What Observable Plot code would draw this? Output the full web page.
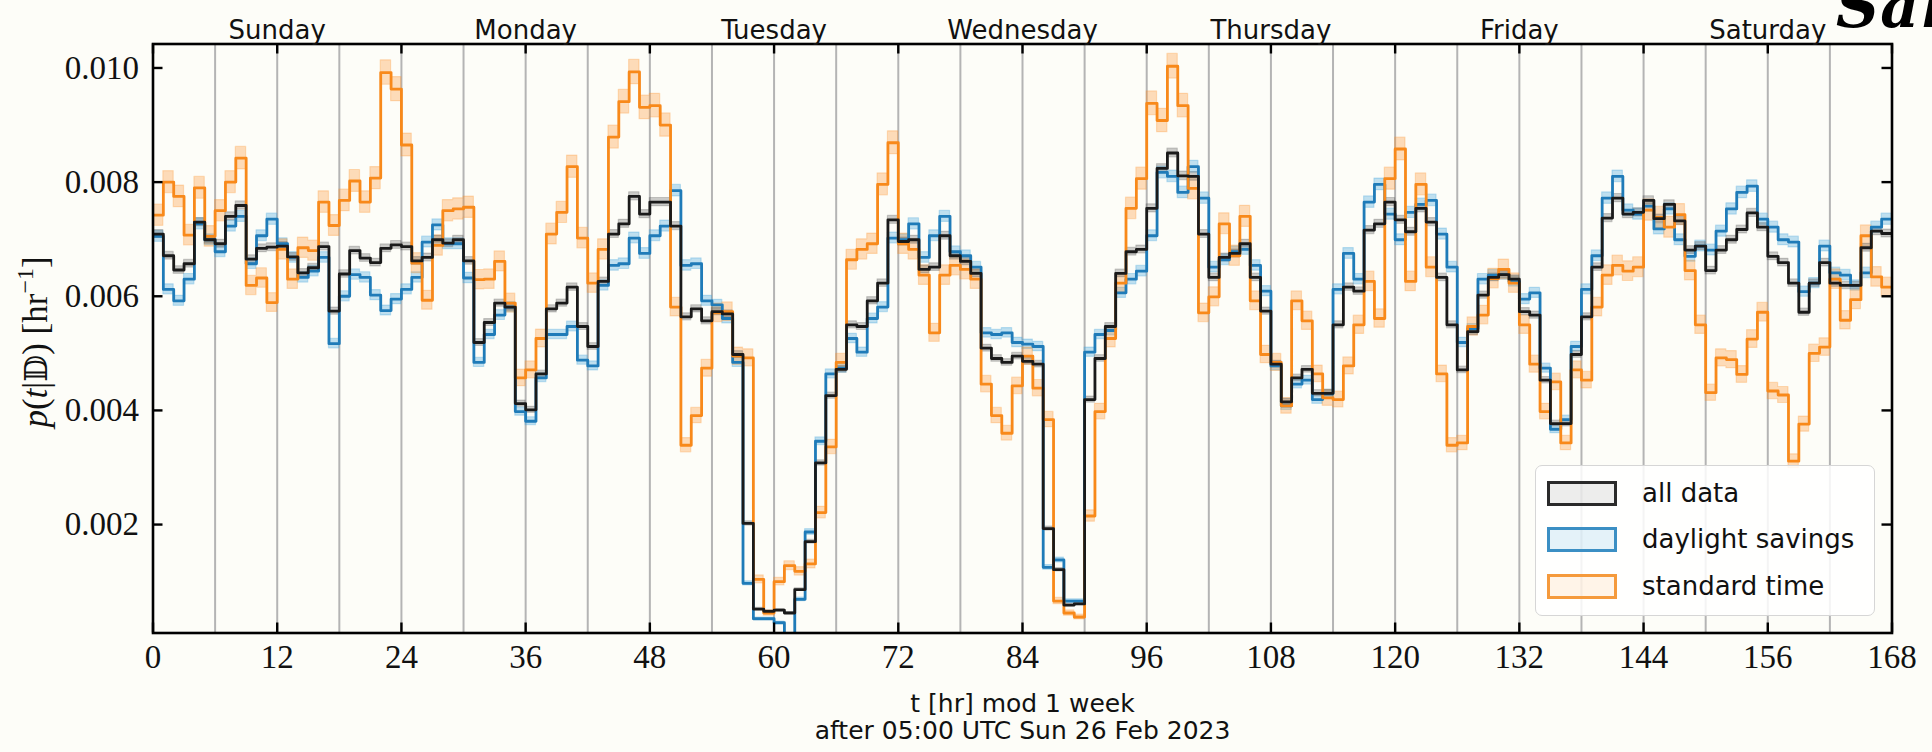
<!DOCTYPE html>
<html>
<head>
<meta charset="utf-8">
<script src="https://cdn.jsdelivr.net/npm/d3@7"></script>
<script src="https://cdn.jsdelivr.net/npm/@observablehq/plot@0.6"></script>
<style>
  html, body { margin: 0; padding: 0; background: #fdfdf8; }
  #wrap { position: relative; width: 1932px; height: 752px; overflow: hidden; }
  .legend {
    position: absolute; left: 1535px; top: 465px; width: 340px; height: 151px;
    box-sizing: border-box; border: 1.5px solid #d6d6d6; border-radius: 7px;
    background: rgba(255, 255, 255, 0.85);
    font-family: "DejaVu Sans", sans-serif; font-size: 26px; color: #111;
  }
  .legend .row { position: absolute; left: 11px; height: 30px; display: flex; align-items: center; white-space: nowrap; }
  .legend .sw { width: 64px; height: 19px; border: 3px solid; margin-right: 25px; }
  .stamp {
    position: absolute; left: 1836px; top: -24px; line-height: 1;
    font-family: "DejaVu Serif", serif; font-style: italic; font-weight: bold;
    font-size: 60px; color: #000; letter-spacing: 1px; white-space: nowrap;
  }
</style>
</head>
<body>
<div id="wrap"></div>
<script>
// Hourly probability density p(t|D) over one week, in units of 1e-3 per hour.
const hourBins = d3.range(168);

const allData = [
  7.09, 6.71, 6.46, 6.57, 7.30, 6.99, 6.92, 7.40, 7.59, 6.65,
  6.84, 6.86, 6.88, 6.69, 6.41, 6.50, 6.87, 5.74, 6.39, 6.80,
  6.67, 6.59, 6.84, 6.90, 6.87, 6.62, 6.68, 6.99, 6.93, 6.99,
  6.62, 5.19, 5.54, 5.88, 5.81, 4.12, 4.01, 4.64, 5.78, 5.88,
  6.16, 5.47, 5.12, 6.26, 7.09, 7.27, 7.75, 7.44, 7.65, 7.65,
  7.23, 5.64, 5.78, 5.57, 5.73, 5.69, 4.98, 2.02, 0.52, 0.48,
  0.50, 0.45, 0.86, 1.70, 3.08, 4.26, 4.72, 5.50, 5.47, 5.92,
  6.23, 7.34, 6.96, 6.99, 6.47, 6.51, 7.06, 6.71, 6.61, 6.40,
  5.09, 4.91, 4.84, 4.95, 4.86, 4.81, 1.93, 1.21, 0.59, 0.61,
  4.19, 4.91, 5.47, 6.40, 6.78, 6.82, 7.54, 8.24, 8.51, 8.11,
  8.10, 7.09, 6.33, 6.68, 6.75, 6.92, 6.33, 5.74, 4.81, 4.15,
  4.57, 4.72, 4.30, 4.30, 5.50, 6.16, 6.09, 7.16, 7.27, 7.65,
  7.34, 7.13, 7.54, 7.30, 6.33, 5.50, 4.71, 5.38, 6.02, 6.33,
  6.38, 6.30, 5.73, 5.67, 4.53, 3.77, 3.77, 4.98, 5.64, 6.51,
  7.37, 7.72, 7.44, 7.47, 7.68, 7.36, 7.61, 7.32, 6.81, 6.88,
  6.45, 6.81, 6.99, 7.17, 7.46, 7.21, 6.70, 6.59, 6.23, 5.72,
  6.23, 6.59, 6.23, 6.19, 6.19, 6.85, 7.14, 7.10
];

const daylightSavings = [
  7.05, 6.12, 5.92, 6.30, 7.27, 6.99, 6.78, 7.23, 7.40, 6.57,
  7.06, 7.35, 6.92, 6.68, 6.33, 6.44, 6.68, 5.17, 6.00, 6.38,
  6.33, 6.02, 5.75, 5.95, 6.12, 6.33, 6.95, 7.25, 6.92, 6.92,
  6.32, 4.84, 5.33, 5.67, 5.81, 3.98, 3.81, 4.57, 5.33, 5.33,
  5.47, 4.88, 4.78, 6.19, 6.54, 6.57, 7.02, 6.75, 7.06, 7.23,
  7.85, 6.54, 6.57, 5.92, 5.85, 5.61, 4.84, 0.97, 0.35, 0.35,
  0.28, 0.05, 0.69, 1.87, 3.46, 4.64, 4.74, 5.26, 5.02, 5.61,
  5.81, 7.02, 6.99, 7.27, 6.68, 7.06, 7.40, 6.78, 6.71, 6.51,
  5.36, 5.33, 5.36, 5.19, 5.16, 5.12, 1.25, 1.38, 0.66, 0.66,
  5.02, 5.33, 5.40, 6.06, 6.30, 6.44, 7.06, 8.17, 8.10, 7.82,
  8.27, 7.72, 6.51, 6.64, 6.78, 6.82, 6.54, 6.09, 4.78, 4.08,
  4.46, 4.53, 4.19, 4.29, 6.12, 6.75, 6.30, 7.65, 7.96, 7.44,
  6.99, 7.47, 7.61, 7.68, 7.09, 6.51, 5.19, 5.43, 6.30, 6.37,
  6.38, 6.26, 5.95, 6.06, 4.74, 3.67, 3.84, 5.12, 6.12, 6.71,
  7.72, 8.10, 7.51, 7.44, 7.58, 7.18, 7.53, 6.99, 6.70, 6.88,
  6.81, 7.14, 7.53, 7.82, 7.93, 7.35, 7.21, 6.99, 6.95, 6.08,
  6.23, 6.88, 6.41, 6.37, 6.19, 6.41, 7.21, 7.35
];

const standardTime = [
  7.42, 8.00, 7.75, 7.07, 7.90, 7.05, 7.50, 8.00, 8.42, 6.19,
  6.32, 5.89, 6.82, 6.30, 6.85, 6.80, 7.65, 7.24, 7.68, 8.02,
  7.65, 8.07, 9.92, 9.63, 8.65, 6.58, 5.93, 6.89, 7.50, 7.53,
  7.56, 6.29, 6.30, 6.61, 5.88, 4.57, 4.71, 5.26, 7.09, 7.47,
  8.27, 7.02, 6.23, 6.82, 8.79, 9.41, 9.93, 9.31, 9.34, 9.00,
  5.81, 3.39, 3.91, 4.74, 5.71, 5.73, 4.95, 4.92, 1.04, 0.45,
  1.00, 1.28, 1.18, 1.31, 2.21, 3.36, 4.84, 6.64, 6.82, 6.92,
  7.96, 8.69, 6.92, 6.82, 6.37, 5.36, 6.37, 6.54, 6.47, 6.30,
  4.46, 3.91, 3.60, 4.43, 4.95, 4.39, 3.84, 0.66, 0.45, 0.38,
  2.15, 3.98, 5.26, 6.23, 7.54, 8.06, 9.38, 9.08, 10.03, 9.34,
  7.89, 5.71, 5.99, 7.27, 6.71, 7.40, 5.92, 4.98, 4.84, 4.08,
  5.92, 5.57, 4.64, 4.22, 4.19, 4.78, 5.50, 6.26, 5.61, 8.06,
  8.58, 6.26, 7.96, 6.51, 4.64, 3.39, 3.43, 5.47, 5.67, 6.31,
  6.47, 6.23, 5.50, 4.81, 3.98, 4.50, 3.43, 4.71, 4.53, 5.81,
  6.37, 6.54, 6.44, 6.51, 7.51, 7.38, 7.21, 7.43, 6.45, 5.50,
  4.31, 4.92, 4.89, 4.63, 5.25, 5.72, 4.34, 4.27, 3.11, 3.76,
  5.00, 5.11, 6.30, 5.58, 5.94, 7.06, 6.34, 6.16
];

// Poisson-like uncertainty scale per series (half-width = k * sqrt(value), same units)
const uncertaintyScale = { all: 0.026, dst: 0.036, std: 0.068 };

const dayNames = ["Sunday", "Monday", "Tuesday", "Wednesday", "Thursday", "Friday", "Saturday"];
const dayCenters = [12, 36, 60, 84, 108, 132, 156];
const xTicks = [0, 12, 24, 36, 48, 60, 72, 84, 96, 108, 120, 132, 144, 156, 168];
const yTicks = [0.002, 0.004, 0.006, 0.008, 0.010];
const gridHours = d3.range(6, 168, 6);

const series = [
  { key: "daylight savings", vals: daylightSavings, k: uncertaintyScale.dst, line: "#1f7bb8", band: "#3fa3df", bandOpacity: 0.33 },
  { key: "standard time",    vals: standardTime,    k: uncertaintyScale.std, line: "#f8891a", band: "#ff8f24", bandOpacity: 0.30 },
  { key: "all data",         vals: allData,         k: uncertaintyScale.all, line: "#1a1a1a", band: "#555555", bandOpacity: 0.30 }
];

// Step rows: each hourly bin, plus a closing point at t = 168 so the last step spans its hour.
function stepRows(s) {
  const v = [...s.vals, s.vals[s.vals.length - 1]];
  return v.map((val, i) => ({
    t: i,
    v: val * 1e-3,
    lo: (val - s.k * Math.sqrt(Math.max(val, 0))) * 1e-3,
    hi: (val + s.k * Math.sqrt(Math.max(val, 0))) * 1e-3
  }));
}

const W = 1932, H = 752;
const M = { left: 152.5, right: 40.5, top: 43.5, bottom: 119.5 };
const innerW = W - M.left - M.right;
const innerH = H - M.top - M.bottom;
const tickLen = 10;
const serif = "Liberation Serif";
const sans = "DejaVu Sans";

const marks = [
  Plot.ruleX(gridHours, { x: d => d, stroke: "#b4b4b4", strokeWidth: 2 })
];
for (const s of series) {
  marks.push(Plot.areaY(stepRows(s), {
    x: "t", y1: "lo", y2: "hi", curve: "step-after", clip: true,
    fill: s.band, fillOpacity: s.bandOpacity,
    stroke: s.band, strokeOpacity: s.bandOpacity * 0.9, strokeWidth: 1.2
  }));
}
for (const s of series) {
  marks.push(Plot.lineY(stepRows(s), {
    x: "t", y: "v", curve: "step-after", clip: true,
    stroke: s.line, strokeWidth: 2.8
  }));
}
marks.push(
  // inward ticks on all four sides
  Plot.tickX(xTicks, { x: d => d, insetTop: innerH - tickLen, stroke: "black", strokeWidth: 2.4 }),
  Plot.tickX(xTicks, { x: d => d, insetBottom: innerH - tickLen, stroke: "black", strokeWidth: 2.4 }),
  Plot.tickY(yTicks, { y: d => d, insetRight: innerW - tickLen, stroke: "black", strokeWidth: 2.4 }),
  Plot.tickY(yTicks, { y: d => d, insetLeft: innerW - tickLen, stroke: "black", strokeWidth: 2.4 }),
  Plot.frame({ stroke: "black", strokeWidth: 2.6 }),
  Plot.axisX({
    anchor: "bottom", ticks: xTicks, tickSize: 0, tickPadding: 12,
    tickFormat: d => String(d), label: null,
    fontSize: 33, fontFamily: serif, fill: "#111"
  }),
  Plot.axisY({
    anchor: "left", ticks: yTicks, tickSize: 0, tickPadding: 14,
    tickFormat: d3.format(".3f"), label: null,
    fontSize: 33, fontFamily: serif, fill: "#111"
  }),
  Plot.text(dayNames, {
    x: (d, i) => dayCenters[i], text: d => d,
    frameAnchor: "top", lineAnchor: "bottom", dy: -5,
    fontSize: 26, fontFamily: sans, fill: "#111"
  }),
  Plot.text(["t [hr] mod 1 week\nafter 05:00 UTC Sun 26 Feb 2023"], {
    text: d => d, frameAnchor: "bottom", lineAnchor: "top", dy: 59, lineHeight: 1.1,
    fontSize: 25, fontFamily: sans, fill: "#111"
  })
);

const chart = Plot.plot({
  width: W, height: H,
  marginLeft: M.left, marginRight: M.right, marginTop: M.top, marginBottom: M.bottom,
  x: { domain: [0, 168] },
  y: { domain: [0.0001, 0.01042] },
  style: { background: "transparent", fontFamily: serif, color: "#111", overflow: "visible" },
  marks
});

// y-axis title with italic symbols and a superscript
const svg = d3.select(chart);
const yl = svg.append("text")
  .attr("transform", `translate(47,${M.top + innerH / 2 + 4}) rotate(-90)`)
  .attr("text-anchor", "middle")
  .attr("font-family", serif)
  .attr("font-size", 35)
  .attr("fill", "#111");
yl.append("tspan").attr("font-style", "italic").text("p");
yl.append("tspan").text("(");
yl.append("tspan").attr("font-style", "italic").text("t");
yl.append("tspan").text("|");
yl.append("tspan").attr("font-family", "DejaVu Serif, DejaVu Sans").attr("font-size", 31).text("𝔻");
yl.append("tspan").text(") [hr");
yl.append("tspan").attr("dy", -14).attr("font-size", 24).text("−1");
yl.append("tspan").attr("dy", 14).text("]");

const wrap = document.getElementById("wrap");
wrap.appendChild(chart);

// legend inside the lower-right corner of the plot
const legend = document.createElement("div");
legend.className = "legend";
const legendItems = [
  { label: "all data", border: "#2a2a2a", fill: "rgba(80,80,80,0.10)", top: 12 },
  { label: "daylight savings", border: "#3b8fc4", fill: "rgba(63,163,223,0.14)", top: 58 },
  { label: "standard time", border: "#f59a3c", fill: "rgba(255,143,36,0.10)", top: 105 }
];
for (const it of legendItems) {
  const row = document.createElement("div");
  row.className = "row";
  row.style.top = it.top + "px";
  const sw = document.createElement("div");
  sw.className = "sw";
  sw.style.borderColor = it.border;
  sw.style.background = it.fill;
  const lab = document.createElement("span");
  lab.textContent = it.label;
  row.appendChild(sw);
  row.appendChild(lab);
  legend.appendChild(row);
}
wrap.appendChild(legend);

const stamp = document.createElement("div");
stamp.className = "stamp";
stamp.textContent = "Sam";
wrap.appendChild(stamp);
</script>
</body>
</html>
